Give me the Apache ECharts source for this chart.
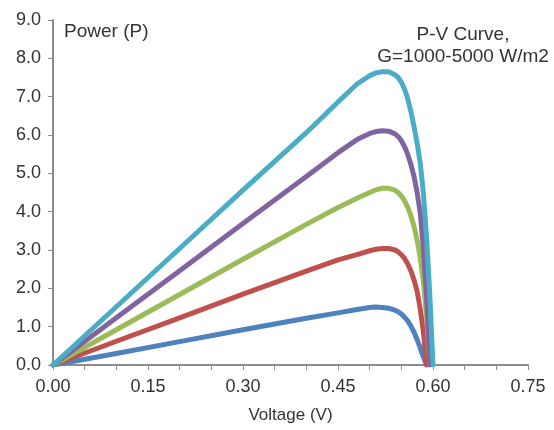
<!DOCTYPE html>
<html>
<head>
<meta charset="utf-8">
<script src="https://cdn.jsdelivr.net/npm/echarts@6/dist/echarts.min.js"></script>
<style>
  html, body { margin: 0; padding: 0; background: #fff; }
  #chart { width: 554px; height: 430px; }
</style>
</head>
<body>
<div id="chart"></div>
<script>
// voltage grid shared by all curves (V)
const voltage = [0, 0.10, 0.20, 0.30, 0.40, 0.45, 0.48, 0.50, 0.51, 0.52, 0.53, 0.54, 0.545,
  0.55, 0.555, 0.56, 0.565, 0.57, 0.575, 0.58, 0.585, 0.59, 0.595, 0.60]

// power (P), one array per irradiance curve
const powerBlue = [0, 0.30, 0.61, 0.92, 1.22, 1.36, 1.45, 1.50, 1.51, 1.50, 1.48, 1.43, 1.39,
  1.33, 1.25, 1.15, 1.02, 0.86, 0.66, 0.44, 0.20, 0, null, null]
const powerRed = [0, 0.62, 1.23, 1.85, 2.45, 2.74, 2.88, 2.98, 3.02, 3.04, 3.04, 3.00, 2.95,
  2.88, 2.78, 2.64, 2.46, 2.22, 1.92, 1.45, 0.85, 0, null, null]
const powerGreen = [0, 0.92, 1.84, 2.76, 3.67, 4.11, 4.35, 4.50, 4.57, 4.61, 4.61, 4.56, 4.50,
  4.41, 4.29, 4.12, 3.90, 3.62, 3.25, 2.78, 2.15, 1.25, 0, null]
const powerPurple = [0, 1.23, 2.46, 3.69, 4.92, 5.54, 5.88, 6.04, 6.09, 6.11, 6.10, 6.03, 5.96,
  5.85, 5.70, 5.50, 5.24, 4.92, 4.50, 3.95, 3.00, 1.75, 0, null]
const powerCyan = [0, 1.52, 3.04, 4.56, 6.06, 6.86, 7.33, 7.55, 7.62, 7.65, 7.65, 7.57, 7.50,
  7.38, 7.20, 6.95, 6.62, 6.22, 5.78, 5.25, 4.45, 3.30, 1.80, 0]

const curves = [
  { name: 'G1000', color: '#4F81BD', power: powerBlue },
  { name: 'G2000', color: '#C0504D', power: powerRed },
  { name: 'G3000', color: '#9BBB59', power: powerGreen },
  { name: 'G4000', color: '#8064A2', power: powerPurple },
  { name: 'G5000', color: '#4BACC6', power: powerCyan }
]

const font = 'Liberation Sans, Arial, sans-serif'
const textColor = '#333'
const axisColor = '#8c8c8c'

var myChart = echarts.init(document.getElementById('chart'), null, { renderer: 'canvas' })

var option = {
  animation: false,
  grid: { left: 53, right: 26, top: 20, bottom: 65 },
  xAxis: {
    type: 'value',
    min: 0,
    max: 0.75,
    interval: 0.05,
    name: 'Voltage (V)',
    nameLocation: 'middle',
    nameGap: 42,
    nameTextStyle: { fontFamily: font, fontSize: 17, color: textColor },
    axisLine: { show: true, lineStyle: { color: axisColor, width: 2 } },
    axisTick: { show: true, length: 5, lineStyle: { color: axisColor, width: 1 } },
    splitLine: { show: false },
    axisLabel: {
      fontFamily: font, fontSize: 18, color: textColor, margin: 13,
      formatter: function (v) {
        var k = Math.round(v * 100)
        return k % 15 === 0 ? v.toFixed(2) : ''
      }
    }
  },
  yAxis: {
    type: 'value',
    min: 0,
    max: 9,
    interval: 1,
    axisLine: { show: true, lineStyle: { color: axisColor, width: 2 } },
    axisTick: { show: true, length: 5, lineStyle: { color: axisColor, width: 1 } },
    splitLine: { show: false },
    axisLabel: {
      fontFamily: font, fontSize: 18, color: textColor, margin: 12,
      formatter: function (v) { return v.toFixed(1) }
    }
  },
  graphic: [
    {
      type: 'text', left: 64, top: 22,
      style: { text: 'Power (P)', font: '19px ' + font, fill: textColor }
    },
    {
      type: 'text', x: 463, y: 24,
      style: {
        text: 'P-V Curve,\nG=1000-5000 W/m2', font: '19px ' + font, fill: textColor,
        textAlign: 'center', lineHeight: 22
      }
    }
  ],
  series: curves.map(function (c) {
    return {
      name: c.name,
      type: 'line',
      showSymbol: false,
      smooth: false,
      lineStyle: { color: c.color, width: 5, cap: 'round', join: 'round' },
      itemStyle: { color: c.color },
      data: voltage.map(function (v, i) { return [v, c.power[i]] })
    }
  })
}

option && myChart.setOption(option)
</script>
</body>
</html>
